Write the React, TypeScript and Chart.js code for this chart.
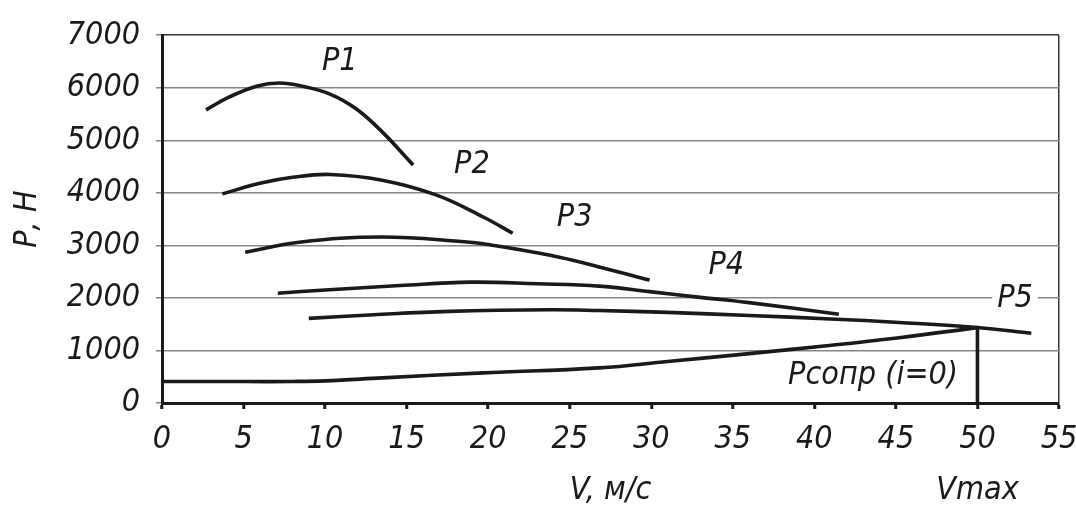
import { useEffect, useRef } from 'react';
import { Chart, registerables } from 'chart.js';

Chart.register(...registerables);

const FONT = '"DejaVu Sans Condensed", "Liberation Sans Narrow", "Liberation Sans", sans-serif';
const INK = '#1a1a1a';
const GRID = '#858585';

// Traction force curves per gear, speed in m/s, force in N
const p1Speed = [2.7, 4.1, 5.8, 7.2, 8.6, 10.3, 11.9, 13.5, 15.4];
const p1Force = [5580, 5820, 6030, 6090, 6030, 5880, 5600, 5160, 4530];

const p2Speed = [3.7, 6.0, 8.0, 10.3, 13.5, 16.8, 19.7, 21.5];
const p2Force = [3980, 4180, 4295, 4350, 4240, 3960, 3540, 3230];

const p3Speed = [5.1, 8.4, 13.5, 18.7, 19.7, 23.8, 26.8, 29.9];
const p3Force = [2870, 3060, 3160, 3065, 3030, 2810, 2590, 2340];

const p4Speed = [7.1, 10.0, 14.6, 18.9, 23.0, 26.8, 29.9, 33.0, 36.0, 41.5];
const p4Force = [2090, 2150, 2235, 2300, 2270, 2225, 2120, 2010, 1910, 1690];

const p5Speed = [9.0, 13.0, 17.6, 23.8, 26.8, 31.0, 36.0, 41.0, 45.2, 50.0, 53.3];
const p5Force = [1610, 1680, 1744, 1775, 1760, 1725, 1665, 1600, 1533, 1437, 1327];

// Resistance force on level road (i = 0)
const resSpeed = [0, 5, 8, 10, 13.5, 19.7, 26.8, 31, 36, 40.6, 45.2, 50];
const resForce = [410, 408, 410, 422, 478, 574, 669, 790, 940, 1085, 1243, 1435];

// Maximum speed marker
const vmaxSpeed = [50, 50];
const vmaxForce = [1435, 0];

const xTicksMin = 0;
const xTicksMax = 55;
const xStep = 5;
const yTicksMin = 0;
const yTicksMax = 7000;
const yStep = 1000;

// Curve captions and where they sit (speed, force)
const captionText = ['P1', 'P2', 'P3', 'P4', 'P5', 'Рсопр (i=0)'];
const captionSpeed = [10.9, 19.0, 25.3, 34.6, 52.3, 43.6];
const captionForce = [6490, 4530, 3520, 2610, 1980, 520];
const captionBoxed = [false, false, false, false, true, false];

const xTitle = 'V, м/с';
const yTitle = 'Р, Н';
const vmaxText = 'Vmax';

const pairs = (xs: number[], ys: number[]) => xs.map((x, i) => ({ x, y: ys[i] }));

const curveLabels = {
  id: 'curveLabels',
  afterDatasetsDraw(chart: any) {
    const { ctx } = chart;
    const x = chart.scales.x;
    const y = chart.scales.y;
    ctx.save();
    ctx.font = `italic 32px ${FONT}`;
    ctx.textAlign = 'center';
    ctx.textBaseline = 'middle';
    captionText.forEach((t, i) => {
      const px = x.getPixelForValue(captionSpeed[i]);
      const py = y.getPixelForValue(captionForce[i]);
      if (captionBoxed[i]) {
        const w = ctx.measureText(t).width + 10;
        ctx.fillStyle = '#ffffff';
        ctx.fillRect(px - w / 2, py - 14, w, 28);
      }
      ctx.fillStyle = INK;
      ctx.fillText(t, px, py);
    });
    ctx.fillText(vmaxText, x.getPixelForValue(vmaxSpeed[0]), chart.height - 20);
    ctx.restore();
  },
};

export default function App() {
  const ref = useRef<HTMLCanvasElement | null>(null);

  useEffect(() => {
    if (!ref.current) return;
    const line = (data: { x: number; y: number }[], tension = 0.4) => ({
      data,
      borderColor: INK,
      borderWidth: 3.6,
      pointRadius: 0,
      fill: false,
      tension,
      borderCapStyle: 'butt' as const,
    });
    const chart = new Chart(ref.current, {
      type: 'line',
      data: {
        datasets: [
          line(pairs(p1Speed, p1Force)),
          line(pairs(p2Speed, p2Force)),
          line(pairs(p3Speed, p3Force)),
          line(pairs(p4Speed, p4Force)),
          line(pairs(p5Speed, p5Force)),
          line(pairs(resSpeed, resForce)),
          line(pairs(vmaxSpeed, vmaxForce), 0),
        ],
      },
      options: {
        animation: false,
        responsive: true,
        maintainAspectRatio: false,
        layout: { padding: { top: 35, right: 17, left: 0, bottom: 0 } },
        plugins: {
          legend: { display: false },
          tooltip: { enabled: false },
        },
        scales: {
          x: {
            type: 'linear',
            min: xTicksMin,
            max: xTicksMax,
            afterFit: (s: any) => {
              s.height = 108;
              s.paddingLeft = 0;
              s.paddingRight = 0;
            },
            ticks: {
              stepSize: xStep,
              color: INK,
              padding: 11,
              font: { family: FONT, size: 32, style: 'italic' },
              callback: (v: any) => String(v),
            },
            grid: {
              drawOnChartArea: true,
              color: (c: any) => (c.tick && c.tick.value === xTicksMax ? '#333333' : 'rgba(0,0,0,0)'),
              lineWidth: 1.5,
              tickLength: 6,
              tickWidth: 3,
              tickColor: INK,
            },
            border: { display: true, color: INK, width: 3 },
            title: {
              display: true,
              text: xTitle,
              color: INK,
              font: { family: FONT, size: 32, style: 'italic', lineHeight: 1 },
              padding: { top: 0, bottom: 4 },
            },
          },
          y: {
            type: 'linear',
            min: yTicksMin,
            max: yTicksMax,
            afterFit: (s: any) => {
              s.width = 162;
            },
            ticks: {
              stepSize: yStep,
              color: INK,
              padding: 16,
              font: { family: FONT, size: 32, style: 'italic' },
              callback: (v: any) => String(v),
            },
            grid: {
              color: (c: any) => (c.tick && c.tick.value === yTicksMax ? '#333333' : GRID),
              lineWidth: 1.5,
              tickLength: 6,
              tickColor: GRID,
            },
            border: { display: true, color: INK, width: 3 },
            title: {
              display: true,
              text: yTitle,
              color: INK,
              font: { family: FONT, size: 32, style: 'italic', lineHeight: 1 },
              padding: { top: 12, bottom: 0 },
            },
          },
        },
      },
      plugins: [curveLabels],
    });
    return () => chart.destroy();
  }, []);

  return (
    <div style={{ position: 'fixed', left: 0, top: 0, width: 1076, height: 511, background: '#ffffff' }}>
      <canvas ref={ref} />
    </div>
  );
}
